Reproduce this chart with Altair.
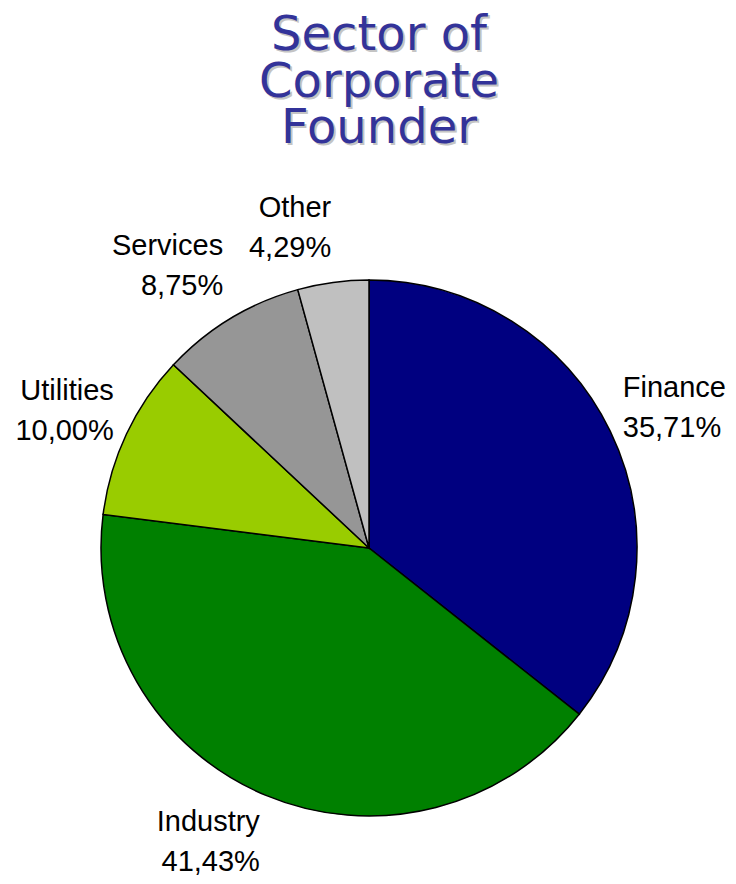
import math
import altair as alt
import pandas as pd

categories = ["Finance", "Industry", "Utilities", "Services", "Other"]
shares = [35.71, 41.43, 10.00, 8.75, 4.29]
share_labels = ["35,71%", "41,43%", "10,00%", "8,75%", "4,29%"]
colors = ["#000080", "#008000", "#99CC00", "#969696", "#C0C0C0"]
title_lines = ["Sector of", "Corporate", "Founder"]

df = pd.DataFrame({
    "sector": categories,
    "share": shares,
    "label": share_labels,
    "order": list(range(len(categories))),
})

CX, CY, R = 361, 540, 268
LR = 282
LH = 40

base = alt.Chart(df)

pie = base.mark_arc(outerRadius=R, stroke="black", strokeWidth=1.5).encode(
    theta=alt.Theta("share:Q", stack=True),
    order=alt.Order("order:Q"),
    color=alt.Color("sector:N", scale=alt.Scale(domain=categories, range=colors), legend=None),
    x=alt.value(CX),
    y=alt.value(CY),
)

prep = (
    base.transform_window(cum="sum(share)", sort=[alt.SortField("order")])
    .transform_joinaggregate(total="sum(share)")
    .transform_calculate(
        frac="(datum.cum - datum.share/2) / datum.total",
        s="sin(2*PI*datum.frac)",
        c="cos(2*PI*datum.frac)",
        txt="datum.sector + '\\n' + datum.label",
    )
)

# (condition on vertical position, baseline, dy)
vertical_groups = [
    ("datum.c >= 0.7", "bottom", -LH - 6),
    ("datum.c >= 0 && datum.c < 0.7", "bottom", -22),
    ("datum.c < 0", "top", 0),
]

label_layers = []
for right_side in (True, False):
    for vcond, vbase, vdy in vertical_groups:
        cond = ("datum.s >= 0" if right_side else "datum.s < 0") + " && " + vcond
        label_layers.append(
            prep.transform_filter(cond)
            .mark_text(
                radius=LR,
                align="left" if right_side else "right",
                baseline=vbase,
                dy=vdy,
                font="Liberation Sans",
                fontSize=29,
                lineHeight=LH,
                lineBreak="\n",
                color="black",
            )
            .encode(
                theta=alt.Theta("frac:Q", scale=alt.Scale(domain=[0, 1], range=[0, 2 * math.pi])),
                text="txt:N",
                x=alt.value(CX),
                y=alt.value(CY),
            )
        )

labels = alt.layer(*label_layers)

title_df = pd.DataFrame({"t": ["\n".join(title_lines)]})
title_shadow = alt.Chart(title_df).mark_text(
    font="DejaVu Sans", fontSize=48, lineHeight=46.5, lineBreak="\n",
    align="center", baseline="top", color="#C4C4C4",
).encode(text="t:N", x=alt.value(373), y=alt.value(6))
title_main = alt.Chart(title_df).mark_text(
    font="DejaVu Sans", fontSize=48, lineHeight=46.5, lineBreak="\n",
    align="center", baseline="top", color="#333399",
).encode(text="t:N", x=alt.value(371), y=alt.value(4))

chart = (
    alt.layer(pie, labels, title_shadow, title_main)
    .resolve_scale(theta="independent")
    .properties(width=720, height=876, autosize=alt.AutoSizeParams(type="none"), padding=0)
    .configure_view(stroke=None)
)

chart.save("out.html", embed_options={"renderer": "svg", "actions": False})
